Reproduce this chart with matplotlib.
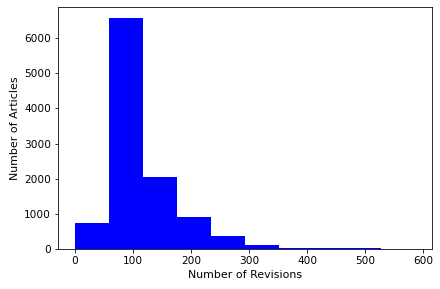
import numpy as np
import matplotlib
matplotlib.use("Agg")
import matplotlib.pyplot as plt

plt.rcParams["font.size"] = 10.5

# histogram of revision counts
bin_edges = np.linspace(0, 586, 11)
article_counts = [750, 6560, 2060, 910, 380, 120, 40, 35, 30, 4]

fig = plt.figure(figsize=(440 / 72, 289 / 72), dpi=72)
ax = fig.add_axes([0.132, 0.138, 0.850, 0.838])

ax.hist(bin_edges[:-1], bins=bin_edges, weights=article_counts, color="blue")

ax.set_xlabel("Number of Revisions", fontsize=11)
ax.set_ylabel("Number of Articles", fontsize=11)

fig.savefig("out.png", dpi=72)
